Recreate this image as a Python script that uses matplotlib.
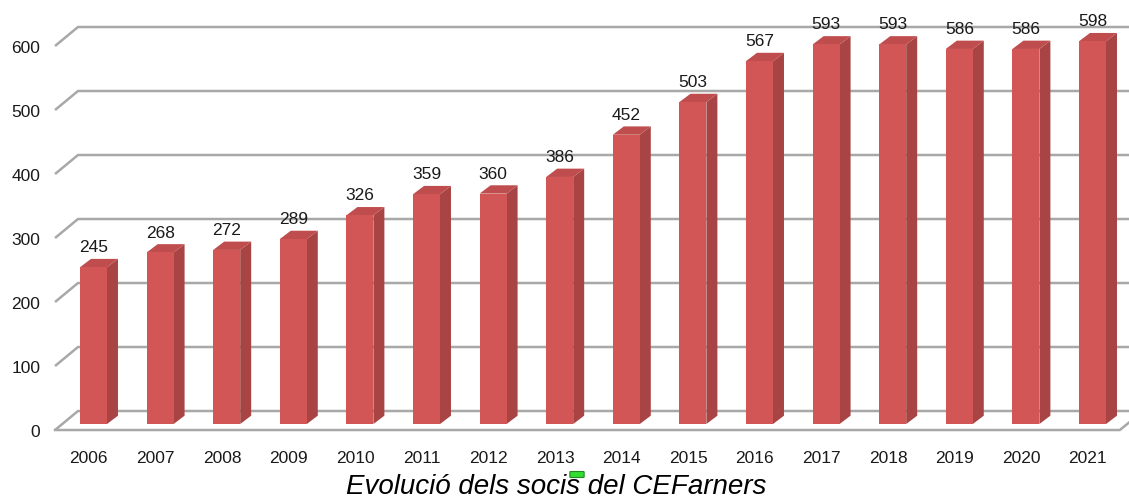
import matplotlib
matplotlib.use("Agg")
import matplotlib.pyplot as plt
from matplotlib.patches import Polygon, FancyBboxPatch

years = [str(y) for y in range(2006, 2022)]
socis = [245, 268, 272, 289, 326, 359, 360, 386, 452, 503, 567, 593, 593, 586, 586, 598]
grid_vals = [0, 100, 200, 300, 400, 500, 600]
caption = "Evolució dels socis del CEFarners"

# 3D look, in data units (1 unit x = one category, y = socis)
bar_w = 0.405
side_dx, side_dy = 0.165, 13.0
grid_front_dx, grid_back_dx = -0.578, -0.233
grid_front_dy, grid_back_dy = -9.4, 20.3
grid_right = 15.8
floor_right = 15.41

front_col = "#d35656"
side_col = "#a84444"
top_col = "#bf4d4d"
grid_col = "#a8a8a8"
txt_col = "#1a1a1a"
lab_font = "Liberation Sans"

fig = plt.figure(figsize=(11.29, 5.02), dpi=100)
ax = fig.add_axes([0, 0, 1, 1])
ax.set_xlim(-1.404, 15.548)
ax.set_ylim(-120.3, 664.06)
ax.axis("off")

# gridlines (left wall slant + back wall)
for g in grid_vals:
    ax.plot([grid_front_dx, grid_back_dx, grid_right],
            [g + grid_front_dy, g + grid_back_dy, g + grid_back_dy],
            color=grid_col, lw=1.8, zorder=1, solid_capstyle="butt")
    ax.text(grid_front_dx - 0.22, g + grid_front_dy - 2, str(g), ha="right", va="center",
            fontsize=12.5, family=lab_font, color=txt_col)

# floor front edge
ax.plot([grid_front_dx, floor_right, floor_right + 0.35],
        [grid_front_dy, grid_front_dy, grid_back_dy],
        color=grid_col, lw=1.8, zorder=1)

x = list(range(len(years)))
bars = ax.bar(x, socis, width=bar_w, color=front_col, zorder=3, linewidth=0)

for xi, v in zip(x, socis):
    r = xi + bar_w / 2
    l = xi - bar_w / 2
    side = Polygon([(r, 0), (r + side_dx, side_dy), (r + side_dx, v + side_dy), (r, v)],
                   closed=True, facecolor=side_col, edgecolor="none", zorder=2)
    top = Polygon([(l, v), (l + side_dx, v + side_dy), (r + side_dx, v + side_dy), (r, v)],
                  closed=True, facecolor=top_col, edgecolor="none", zorder=2)
    ax.add_patch(side)
    ax.add_patch(top)
    ax.text(xi, v + 32, str(v), ha="center", va="center", fontsize=12.5,
            family=lab_font, color=txt_col, zorder=4)
    ax.text(xi - 0.07, -52, years[xi], ha="center", va="center", fontsize=12.5,
            family=lab_font, color=txt_col)

ax.text(6.95, -97, caption, ha="center", va="center", fontsize=20, style="italic",
        family="Liberation Sans", color="#000000")

# little green marker under the 2013 label
fig.patches.append(FancyBboxPatch((571 / 1129, 1 - 478 / 502), 12 / 1129, 5 / 502,
                                  boxstyle="round,pad=0.001", transform=fig.transFigure,
                                  facecolor="#33dd33", edgecolor="#228822", lw=0.8))

fig.savefig("out.png", dpi=100)
